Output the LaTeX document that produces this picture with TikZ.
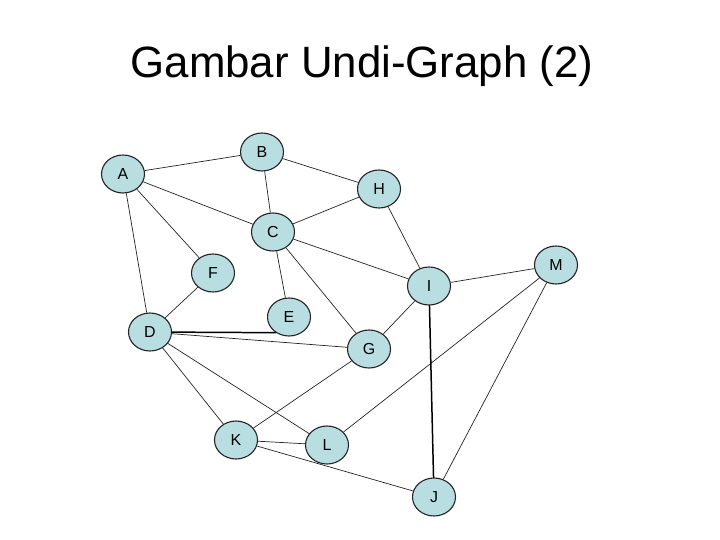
\documentclass[tikz,border=0pt]{standalone}
\usepackage{fontspec}
\setmainfont{Liberation Sans}
\usetikzlibrary{shapes.geometric,backgrounds}

\definecolor{nodecyan}{RGB}{185,222,226}
\definecolor{edgegray}{RGB}{35,35,35}

\tikzset{
	vertex/.style={ellipse, draw=edgegray, line width=1.1pt, fill=nodecyan,
		minimum width=43bp, minimum height=38bp, inner sep=0pt},
	edge/.style={draw=edgegray, line width=0.7pt},
	heavy/.style={draw=black, line width=1.5pt}
}
\newcommand{\vx}[1]{\fontsize{16}{16}\selectfont #1}

\begin{document}
\begin{tikzpicture}[x=1bp,y=-1bp]
		\useasboundingbox (0,0) rectangle (720,540);
		\node (title) at (362,66) {\fontsize{44}{44}\selectfont Gambar Undi-Graph (2)};
		% vertices
		\node[vertex] (A) at (123,174) {\vx{A}};
		\node[vertex] (B) at (262,152) {\vx{B}};
		\node[vertex] (H) at (379,189) {\vx{H}};
		\node[vertex] (C) at (273,232) {\vx{C}};
		\node[vertex] (F) at (213,273) {\vx{F}};
		\node[vertex] (I) at (429,286) {\vx{I}};
		\node[vertex] (M) at (556,265) {\vx{M}};
		\node[vertex] (E) at (289,317) {\vx{E}};
		\node[vertex] (D) at (150,332) {\vx{D}};
		\node[vertex] (G) at (369,349) {\vx{G}};
		\node[vertex] (K) at (236,440) {\vx{K}};
		\node[vertex] (L) at (327,445) {\vx{L}};
		\node[vertex] (J) at (434,497) {\vx{J}};
		% edges
		\begin{scope}[on background layer]
		\foreach \u/\v in {A/B, A/C, A/F, A/D, B/C, B/H, H/C, H/I, C/I, C/E, C/G, F/D,
			D/G, D/K, D/L, I/G, I/M, G/K, K/L, K/J, L/M, M/J} {
			\draw[edge] (\u) -- (\v);
		}
		\draw[heavy] (D.center) -- (E.230);
		\draw[heavy] (I.center) -- (J.center);
		\end{scope}
\end{tikzpicture}
\end{document}
